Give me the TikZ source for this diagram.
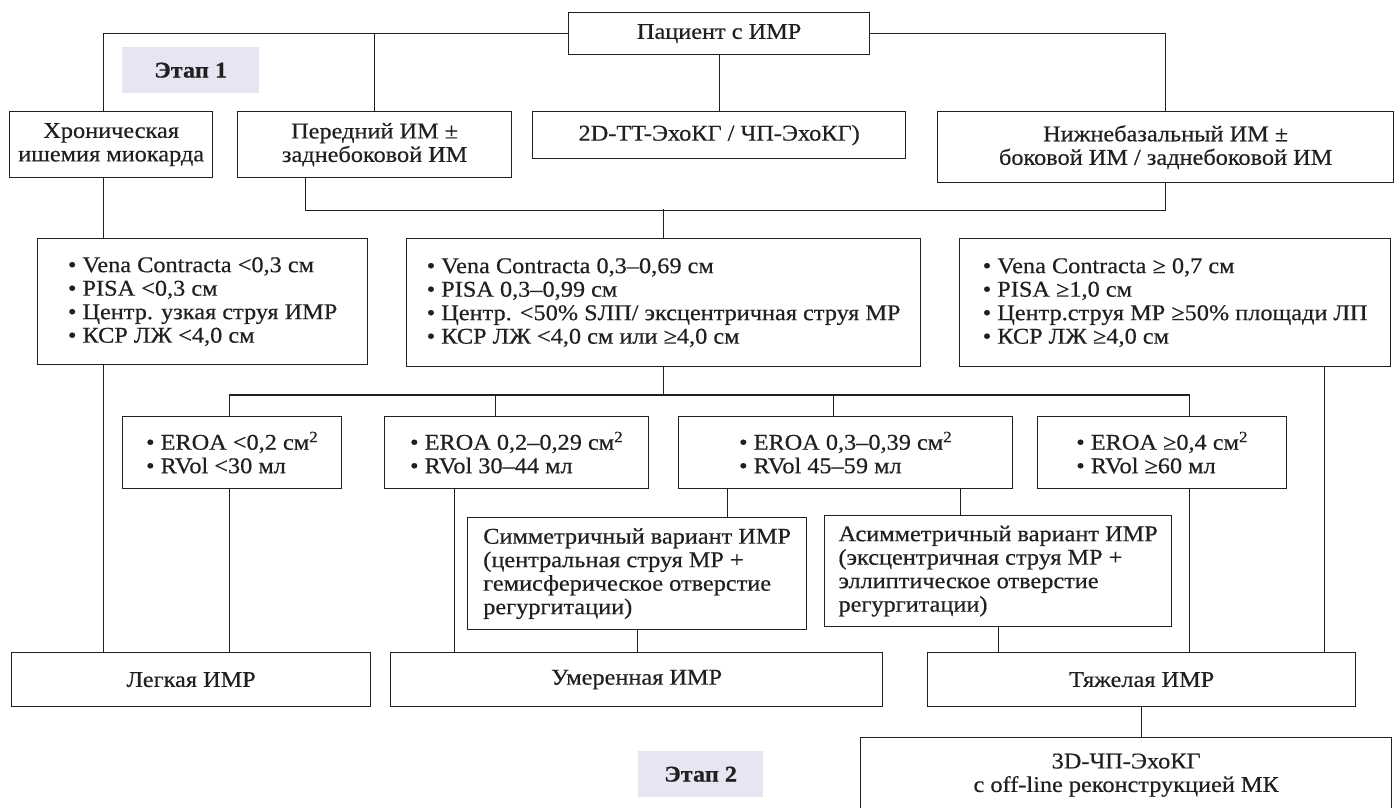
\documentclass[tikz,border=0pt]{standalone}
\usepackage{fontspec}
\setmainfont{Liberation Serif}[FakeStretch=1.08, FakeBold=0.5]
\definecolor{ln}{RGB}{35,31,32}
\definecolor{stage}{RGB}{230,230,242}
\begin{document}
\begin{tikzpicture}[x=1pt,y=-1pt,
  every node/.style={font=\fontsize{22.5}{23.5}\selectfont, text=ln},
  bx/.style 2 args={draw=ln, line width=1.3pt, rectangle, anchor=north west, inner sep=0pt,
     minimum width=#1pt, minimum height=#2pt},
  lft/.style={align=left},
  ctr/.style={align=center},
  conn/.style={draw=ln, line width=1.3pt},
  stagebox/.style 2 args={fill=stage, anchor=north west, inner sep=0pt,
     minimum width=#1pt, minimum height=#2pt, font=\fontsize{22.5}{23.5}\selectfont\bfseries}
]
\useasboundingbox (0,0) rectangle (1395,808);

% level 0
\node[bx={301}{42}, ctr] (top) at (568,12) {Пациент с ИМР};
\node[stagebox={137}{46}] (st1) at (122,47) {Этап 1};

% level 1
\node[bx={203}{66}, ctr] (chron) at (9,111) {Хроническая\\ишемия миокарда};
\node[bx={274}{66}, ctr] (ant) at (237,111) {Передний ИМ ±\\заднебоковой ИМ};
\node[bx={373}{47}, ctr] (echo) at (532,111) {2D-TT-ЭхоКГ / ЧП-ЭхоКГ)};
\node[bx={456}{71}, ctr] (inf) at (937,111) {Нижнебазальный ИМ ±\\боковой ИМ / заднебоковой ИМ};

% level 2
\node[bx={330}{126}, lft] (vcl) at (37,238) {• Vena Contracta <0,3 см\\• PISA <0,3 см\\• Центр. узкая струя ИМР\\• КСР ЛЖ <4,0 см};
\node[bx={514}{128}, lft] (vcc) at (406,238) {• Vena Contracta 0,3–0,69 см\\• PISA 0,3–0,99 см\\• Центр. <50\% SЛП/ эксцентричная струя МР\\• КСР ЛЖ <4,0 см или ≥4,0 см};
\node[bx={431}{128}, lft] (vcr) at (959,238) {• Vena Contracta ≥ 0,7 см\\• PISA ≥1,0 см\\• Центр.струя МР ≥50\% площади ЛП\\• КСР ЛЖ ≥4,0 см};

% level 3
\node[bx={219}{72}, lft] (e1) at (122,416) {• EROA <0,2 см\textsuperscript{2}\\• RVol <30 мл};
\node[bx={264}{72}, lft] (e2) at (384,416) {• EROA 0,2–0,29 см\textsuperscript{2}\\• RVol 30–44 мл};
\node[bx={334}{72}, lft] (e3) at (678,416) {• EROA 0,3–0,39 см\textsuperscript{2}\\• RVol 45–59 мл};
\node[bx={249}{72}, lft] (e4) at (1037,416) {• EROA ≥0,4 см\textsuperscript{2}\\• RVol ≥60 мл};

% level 4
\node[bx={339}{112}, lft] (sym) at (467,517) {Симметричный вариант ИМР\\(центральная струя МР +\\гемисферическое отверстие\\регургитации)};
\node[bx={347}{111}, lft] (asym) at (824,515) {Асимметричный вариант ИМР\\(эксцентричная струя МР +\\эллиптическое отверстие\\регургитации)};

% level 5
\node[bx={359}{54}, ctr] (leg) at (11,652) {Легкая ИМР};
\node[bx={492}{54}, ctr] (mod) at (390,652) {Умеренная ИМР};
\node[bx={428}{54}, ctr] (sev) at (927,652) {Тяжелая ИМР};

% level 6
\node[bx={531}{75}, ctr] (d3) at (860,737) {3D-ЧП-ЭхоКГ\\с off-line реконструкцией МК};
\node[stagebox={125}{46}] (st2) at (638,751) {Этап 2};

% helper coordinates on node edges
\coordinate (chS) at ([xshift=-8pt]chron.south);
\coordinate (chN) at ([xshift=-8pt]chron.north);
\coordinate (antS) at ([xshift=-69pt]ant.south);
\coordinate (vclS) at ([xshift=-99pt]vcl.south);
\coordinate (e1N) at ([xshift=-2.5pt]e1.north);
\coordinate (e2N) at ([xshift=-21pt]e2.north);
\coordinate (e3N) at ([xshift=-12pt]e3.north);
\coordinate (e4N) at ([xshift=27.5pt]e4.north);
\coordinate (e1S) at ([xshift=-2.5pt]e1.south);
\coordinate (e2S) at ([xshift=-62pt]e2.south);
\coordinate (e3Sa) at ([xshift=-118pt]e3.south);
\coordinate (e3Sb) at ([xshift=115pt]e3.south);
\coordinate (e4S) at ([xshift=27.5pt]e4.south);
\coordinate (vcrS) at ([xshift=149pt]vcr.south);

% connectors level 0 -> 1
\draw[conn] (top.west) -| (chN);
\draw[conn] (top.west) -| (ant.north);
\draw[conn] (top.south) -- (echo.north);
\draw[conn] (top.east) -| (inf.north);

% level 1 -> 2
\draw[conn] (chS) -- (chS |- vcl.north);
\draw[conn] (antS) -- ++(0,32) -| (inf.south);
\draw[conn] (vcc.north) -- ++(0,-29);

% level 2 -> 3
\draw[conn] (vcc.south) -- ++(0,29);
\draw[conn] (e1N) -- ++(0,-21) -| (e4N);
\draw[conn] (e2N) -- ++(0,-21);
\draw[conn] (e3N) -- ++(0,-21);

% down to result boxes
\draw[conn] (vclS) -- (vclS |- leg.north);
\draw[conn] (e1S) -- (e1S |- leg.north);
\draw[conn] (e2S) -- (e2S |- mod.north);
\draw[conn] (e3Sa) -- (e3Sa |- sym.north);
\draw[conn] (e3Sb) -- (e3Sb |- asym.north);
\draw[conn] (e4S) -- (e4S |- sev.north);
\draw[conn] (vcrS) -- (vcrS |- sev.north);
\draw[conn] (sym.south) -- (sym.south |- mod.north);
\draw[conn] (asym.south) -- (asym.south |- sev.north);
\draw[conn] (sev.south) -- (sev.south |- d3.north);
\end{tikzpicture}
\end{document}
